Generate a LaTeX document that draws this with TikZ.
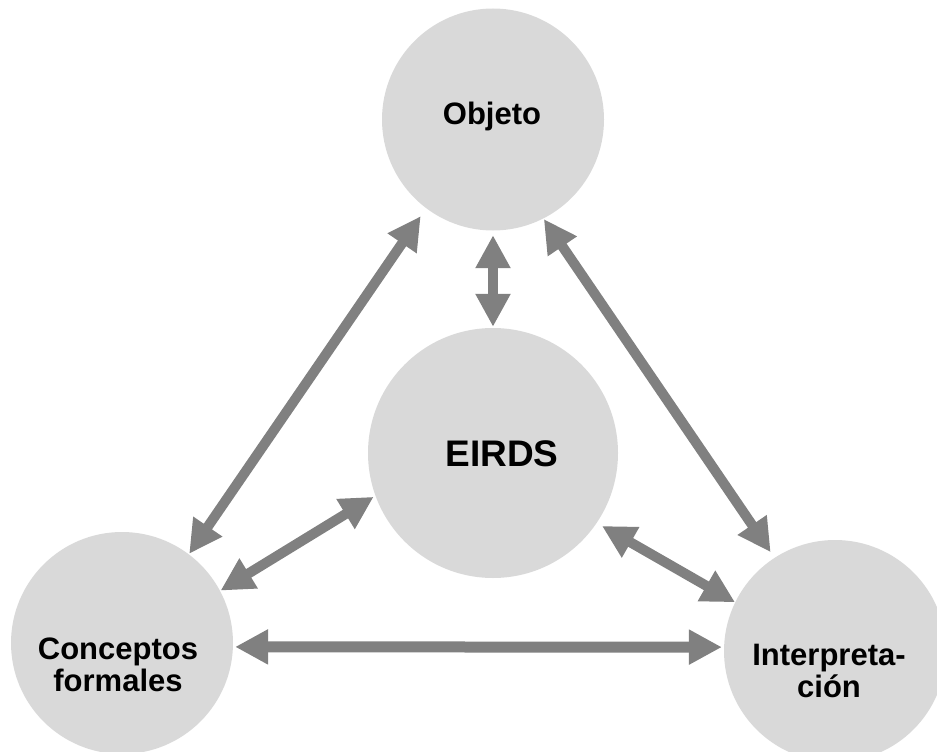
\documentclass[tikz,border=0pt]{standalone}
\usepackage{fontspec}
\setmainfont{Liberation Sans}
\usetikzlibrary{arrows.meta}
\definecolor{discfill}{RGB}{217,217,217}
\definecolor{arrowgray}{RGB}{128,128,128}
\begin{document}
\begin{tikzpicture}[x=1pt,y=-1pt,
  disc/.style={circle,fill=discfill,draw=none,minimum size=222pt,inner sep=0pt},
  bigdisc/.style={disc,minimum size=250pt},
  lab/.style={font=\bfseries\fontsize{31}{32}\selectfont,align=center,inner sep=0pt,text=black},
  biglab/.style={font=\bfseries\fontsize{37}{40}\selectfont,inner sep=0pt,text=black},
  link/.style={draw=arrowgray,line width=10pt,{Triangle[length=33pt,width=33pt]}-{Triangle[length=33pt,width=33pt]}}]
\useasboundingbox (0,0) rectangle (937,752);
\clip (0,0) rectangle (937,752);
% discs
\node[disc] (obj) at (493,119.5) {};
\node[bigdisc] (eirds) at (493,453) {};
\node[disc] (conc) at (122,643) {};
\node[disc] (interp) at (835,651) {};
% labels
\node[lab,anchor=base] (objt) at (492,124.5) {Objeto};
\node[biglab,anchor=base] (eirdst) at (502,466.5) {EIRDS};
\node[lab,anchor=base] (conct) at (118,691) {Conceptos\\formales};
\node[lab,anchor=base] (interpt) at (829,697) {Interpreta-\\ción};
% connectors
\draw[link,shorten <=0.5pt,shorten >=9.5pt] (conc.53.5) -- (obj.233.7);
\draw[link,shorten <=0.6pt,shorten >=6.7pt] (obj.297.8) -- (interp.123.9);
\draw[link,shorten <=4.5pt,shorten >=1pt] (obj.south) -- (eirds.north);
\draw[link,shorten <=0.4pt,shorten >=2pt] (conc.28.4) -- (eirds.200.6);
\draw[link,shorten <=6pt,shorten >=0pt] (eirds.326.1) -- (interp.154.5);
\draw[link,line width=11pt,shorten <=2pt,shorten >=2pt] (conc.-2) -- (interp.178);
\end{tikzpicture}
\end{document}
